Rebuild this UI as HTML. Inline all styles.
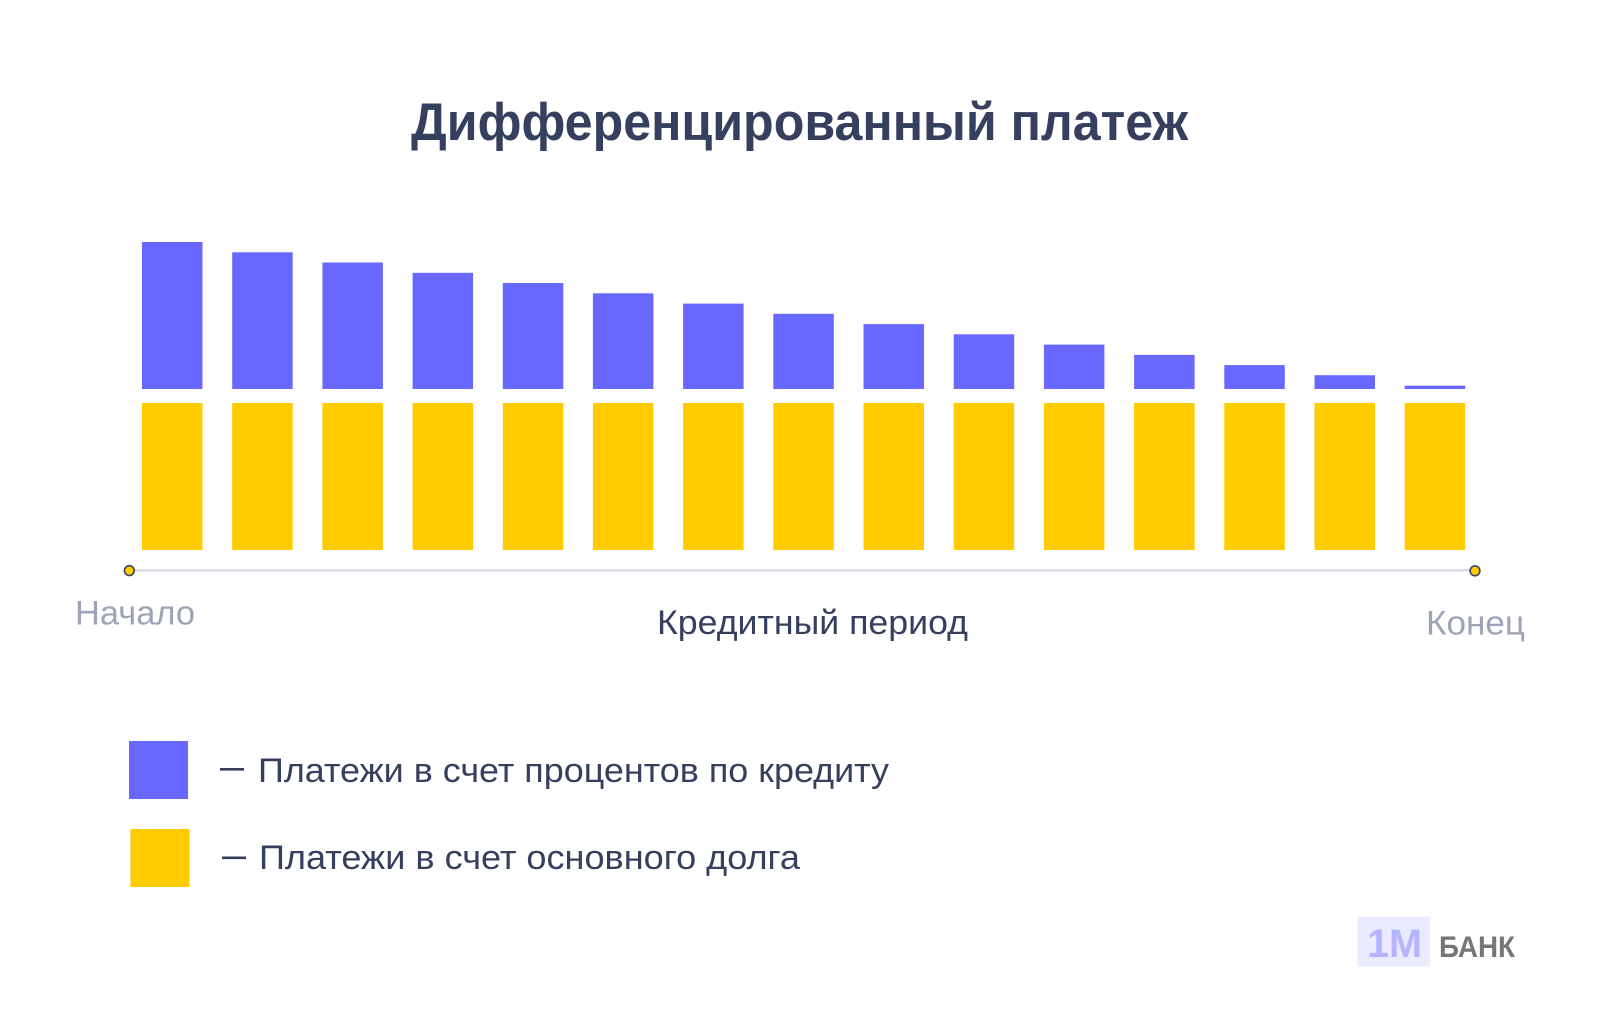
<!DOCTYPE html>
<html>
<head>
<meta charset="utf-8">
<style>
html,body{margin:0;padding:0;background:#fff;}
svg{display:block;}
text{font-family:"Liberation Sans","DejaVu Sans",sans-serif;}
</style>
</head>
<body>
<svg width="1600" height="1011" viewBox="0 0 1600 1011" xmlns="http://www.w3.org/2000/svg">
<rect width="1600" height="1011" fill="#ffffff"/>
<text x="411" y="140" font-size="53" font-weight="bold" fill="#363f5e" textLength="777" lengthAdjust="spacingAndGlyphs">Дифференцированный платеж</text>

<g fill="#6868ff">
<rect x="142.0" y="242.0" width="60.5" height="147.0"/>
<rect x="232.2" y="252.3" width="60.5" height="136.7"/>
<rect x="322.4" y="262.5" width="60.5" height="126.5"/>
<rect x="412.6" y="272.8" width="60.5" height="116.2"/>
<rect x="502.8" y="283.0" width="60.5" height="106.0"/>
<rect x="592.9" y="293.3" width="60.5" height="95.7"/>
<rect x="683.1" y="303.6" width="60.5" height="85.4"/>
<rect x="773.3" y="313.8" width="60.5" height="75.2"/>
<rect x="863.5" y="324.1" width="60.5" height="64.9"/>
<rect x="953.7" y="334.3" width="60.5" height="54.7"/>
<rect x="1043.9" y="344.6" width="60.5" height="44.4"/>
<rect x="1134.1" y="354.9" width="60.5" height="34.1"/>
<rect x="1224.3" y="365.1" width="60.5" height="23.9"/>
<rect x="1314.5" y="375.2" width="60.5" height="13.8"/>
<rect x="1404.7" y="385.7" width="60.5" height="3.3"/>
</g>
<g fill="#ffcc00">
<rect x="142.0" y="403" width="60.5" height="147"/>
<rect x="232.2" y="403" width="60.5" height="147"/>
<rect x="322.4" y="403" width="60.5" height="147"/>
<rect x="412.6" y="403" width="60.5" height="147"/>
<rect x="502.8" y="403" width="60.5" height="147"/>
<rect x="592.9" y="403" width="60.5" height="147"/>
<rect x="683.1" y="403" width="60.5" height="147"/>
<rect x="773.3" y="403" width="60.5" height="147"/>
<rect x="863.5" y="403" width="60.5" height="147"/>
<rect x="953.7" y="403" width="60.5" height="147"/>
<rect x="1043.9" y="403" width="60.5" height="147"/>
<rect x="1134.1" y="403" width="60.5" height="147"/>
<rect x="1224.3" y="403" width="60.5" height="147"/>
<rect x="1314.5" y="403" width="60.5" height="147"/>
<rect x="1404.7" y="403" width="60.5" height="147"/>
</g>

<line x1="129" y1="570.3" x2="1475" y2="570.3" stroke="#dbdbe3" stroke-width="2.6"/>
<circle cx="129.3" cy="570.6" r="4.9" fill="#ffcc00" stroke="#3d4360" stroke-width="1.6"/>
<circle cx="1475" cy="570.8" r="4.9" fill="#ffcc00" stroke="#3d4360" stroke-width="1.6"/>

<text x="75" y="624.3" font-size="34" fill="#9fa3b6" textLength="120" lengthAdjust="spacingAndGlyphs">Начало</text>
<text x="657" y="634" font-size="34" fill="#363f5e" textLength="311" lengthAdjust="spacingAndGlyphs">Кредитный период</text>
<text x="1426" y="634.5" font-size="34" fill="#9fa3b6" textLength="99" lengthAdjust="spacingAndGlyphs">Конец</text>

<rect x="129" y="741" width="59" height="58" fill="#6868ff"/>
<rect x="130.5" y="829" width="59" height="58" fill="#ffcc00"/>
<rect x="220" y="768" width="24" height="2.6" fill="#363f5e"/>
<rect x="222" y="856.5" width="24" height="2.6" fill="#363f5e"/>
<text x="258" y="782" font-size="34" fill="#363f5e" textLength="631" lengthAdjust="spacingAndGlyphs">Платежи в счет процентов по кредиту</text>
<text x="259" y="869" font-size="34" fill="#363f5e" textLength="541" lengthAdjust="spacingAndGlyphs">Платежи в счет основного долга</text>

<rect x="1357.7" y="916.7" width="72.3" height="50" fill="#ebebff"/>
<text x="1367" y="957" font-size="40" font-weight="bold" fill="#b4b4ff" textLength="55" lengthAdjust="spacingAndGlyphs">1M</text>
<text x="1439" y="957" font-size="30" font-weight="bold" fill="#767676" textLength="76" lengthAdjust="spacingAndGlyphs">БАНК</text>
</svg>
</body>
</html>
